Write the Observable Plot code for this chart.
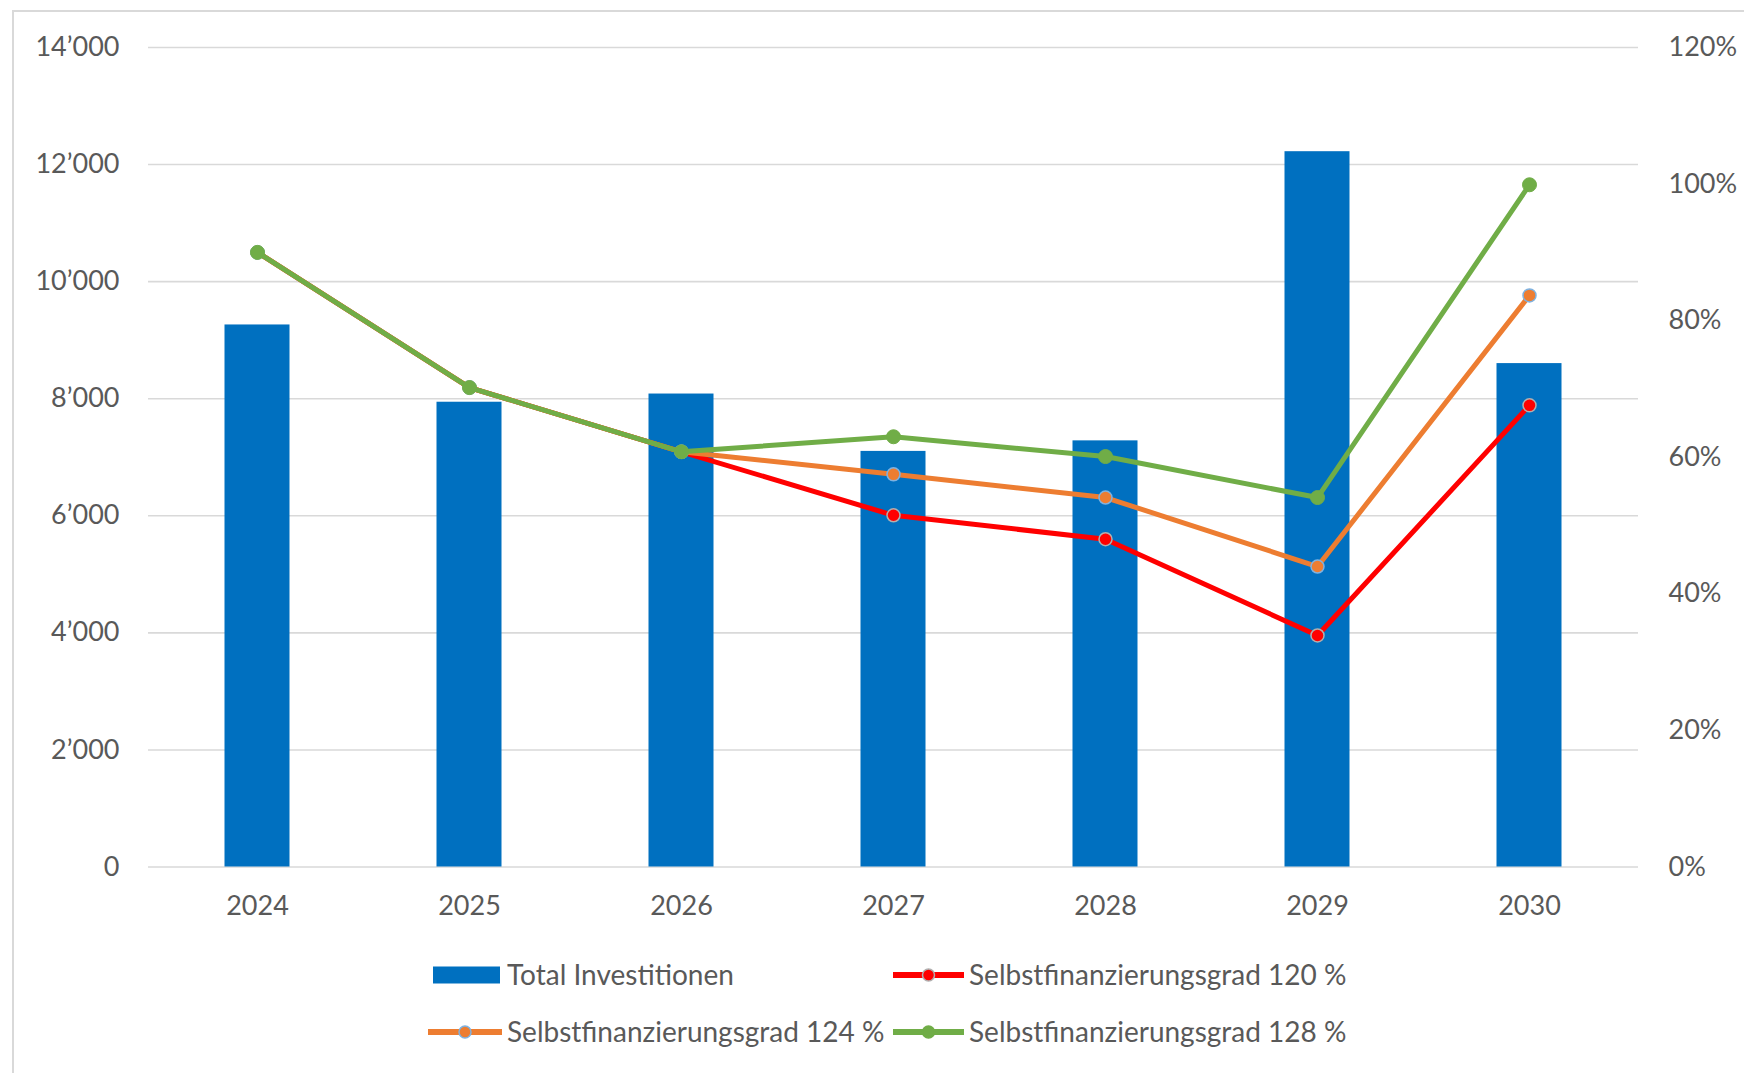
<!DOCTYPE html>
<html>
<head>
<meta charset="utf-8">
<script src="https://cdn.jsdelivr.net/npm/d3@7"></script>
<script src="https://cdn.jsdelivr.net/npm/@observablehq/plot@0.6"></script>
<style>
  body { margin: 0; background: #fff; }
  #wrap { position: relative; width: 1744px; height: 1073px; overflow: hidden; font-family: Lato, "Liberation Sans", sans-serif; }
  #frame { position: absolute; left: 12px; top: 10px; width: 1800px; height: 1200px; border-left: 2px solid #d9d9d9; border-top: 2px solid #d9d9d9; box-sizing: border-box; }
  #chart { position: absolute; left: 0; top: 0; }
  #legend { position: absolute; left: 0; top: 940px; }
</style>
</head>
<body>
<div id="wrap">
  <div id="frame"></div>
  <div id="chart"></div>
  <svg id="legend" width="1744" height="133"></svg>
</div>
<script>
// ---- data ----
const years = ["2024", "2025", "2026", "2027", "2028", "2029", "2030"];
const investitionen = [9260, 7940, 8080, 7100, 7280, 12220, 8600];
const sfg120 = [90.0, 70.2, 60.8, 51.5, 48.0, 33.9, 67.6];
const sfg124 = [90.0, 70.2, 60.8, 57.5, 54.1, 44.0, 83.7];
const sfg128 = [90.0, 70.2, 60.8, 63.0, 60.1, 54.1, 99.9];
const seriesNames = ["Total Investitionen", "Selbstfinanzierungsgrad 120 %", "Selbstfinanzierungsgrad 124 %", "Selbstfinanzierungsgrad 128 %"];
const leftTicks = [0, 2000, 4000, 6000, 8000, 10000, 12000, 14000];
const rightTicks = [0, 20, 40, 60, 80, 100, 120];
const leftMax = 14000, rightMax = 120;

const colors = { bar: "#0070C0", s120: "#FF0000", s124: "#ED7D31", s128: "#70AD47" };
const k = leftMax / rightMax; // percent -> left-axis units

const barData = years.map((y, i) => ({ year: y, value: investitionen[i] }));
const mk = (arr) => years.map((y, i) => ({ year: y, pct: arr[i], v: arr[i] * k }));
const d120 = mk(sfg120), d124 = mk(sfg124), d128 = mk(sfg128);

const locale = d3.formatLocale({ decimal: ".", thousands: "\u2019", grouping: [3], currency: ["", ""] });
const fmt = locale.format(",d");
const textColor = "#595959";
const font = "Lato, 'Liberation Sans', sans-serif";

const chart = Plot.plot({
  width: 1744,
  height: 940,
  marginTop: 47,
  marginBottom: 73.5,
  marginLeft: 148,
  marginRight: 106,
  style: { fontFamily: font, color: textColor, background: "transparent" },
  x: { type: "band", domain: years, padding: 0 },
  y: { domain: [0, leftMax] },
  marks: [
    Plot.gridY(leftTicks, { stroke: "#d9d9d9", strokeOpacity: 1, strokeWidth: 1.6 }),
    Plot.barY(barData, { x: "year", y: "value", fill: colors.bar, insetLeft: 73.5, insetRight: 73.5 }),
    Plot.line(d120, { x: "year", y: "v", stroke: colors.s120, strokeWidth: 5, strokeLinejoin: "round" }),
    Plot.dot(d120, { x: "year", y: "v", r: 6.5, fill: colors.s120, stroke: "#b0b0b0", strokeWidth: 1.5 }),
    Plot.line(d124, { x: "year", y: "v", stroke: colors.s124, strokeWidth: 5, strokeLinejoin: "round" }),
    Plot.dot(d124, { x: "year", y: "v", r: 6.5, fill: colors.s124, stroke: "#7fb2e0", strokeWidth: 1.5 }),
    Plot.line(d128, { x: "year", y: "v", stroke: colors.s128, strokeWidth: 5, strokeLinejoin: "round" }),
    Plot.dot(d128, { x: "year", y: "v", r: 7, fill: colors.s128, stroke: colors.s128, strokeWidth: 1 }),
    Plot.axisX({ tickSize: 0, tickPadding: 29, fontSize: 27, label: null, fill: textColor }),
    Plot.axisY(leftTicks, { anchor: "left", tickSize: 0, tickPadding: 29, fontSize: 27, label: null, tickFormat: fmt, fill: textColor }),
    Plot.axisY(rightTicks.map(p => p * k), { anchor: "right", tickSize: 0, tickPadding: 30, fontSize: 27, label: null, tickFormat: d => Math.round(d / k) + "%", fill: textColor })
  ]
});
document.getElementById("chart").appendChild(chart);

// ---- legend ----
const svg = d3.select("#legend");
const legendItems = [
  { name: seriesNames[0], type: "bar", color: colors.bar, x0: 433, x1: 500, tx: 507, cy: 35 },
  { name: seriesNames[1], type: "line", color: colors.s120, ms: "#b0b0b0", x0: 893, x1: 964, tx: 969, cy: 35 },
  { name: seriesNames[2], type: "line", color: colors.s124, ms: "#7fb2e0", x0: 428, x1: 502, tx: 507, cy: 92 },
  { name: seriesNames[3], type: "line", color: colors.s128, ms: colors.s128, x0: 893, x1: 964, tx: 969, cy: 92 }
];
for (const it of legendItems) {
  if (it.type === "bar") {
    svg.append("rect").attr("x", it.x0).attr("y", it.cy - 8.5).attr("width", it.x1 - it.x0).attr("height", 17).attr("fill", it.color);
  } else {
    svg.append("line").attr("x1", it.x0).attr("x2", it.x1).attr("y1", it.cy).attr("y2", it.cy)
      .attr("stroke", it.color).attr("stroke-width", 6);
    svg.append("circle").attr("cx", (it.x0 + it.x1) / 2).attr("cy", it.cy).attr("r", 6)
      .attr("fill", it.color).attr("stroke", it.ms).attr("stroke-width", 1.5);
  }
  svg.append("text").attr("x", it.tx).attr("y", it.cy).attr("dy", "0.35em")
    .attr("font-size", 28).attr("fill", textColor)
    .attr("font-family", font).text(it.name);
}
</script>
</body>
</html>
